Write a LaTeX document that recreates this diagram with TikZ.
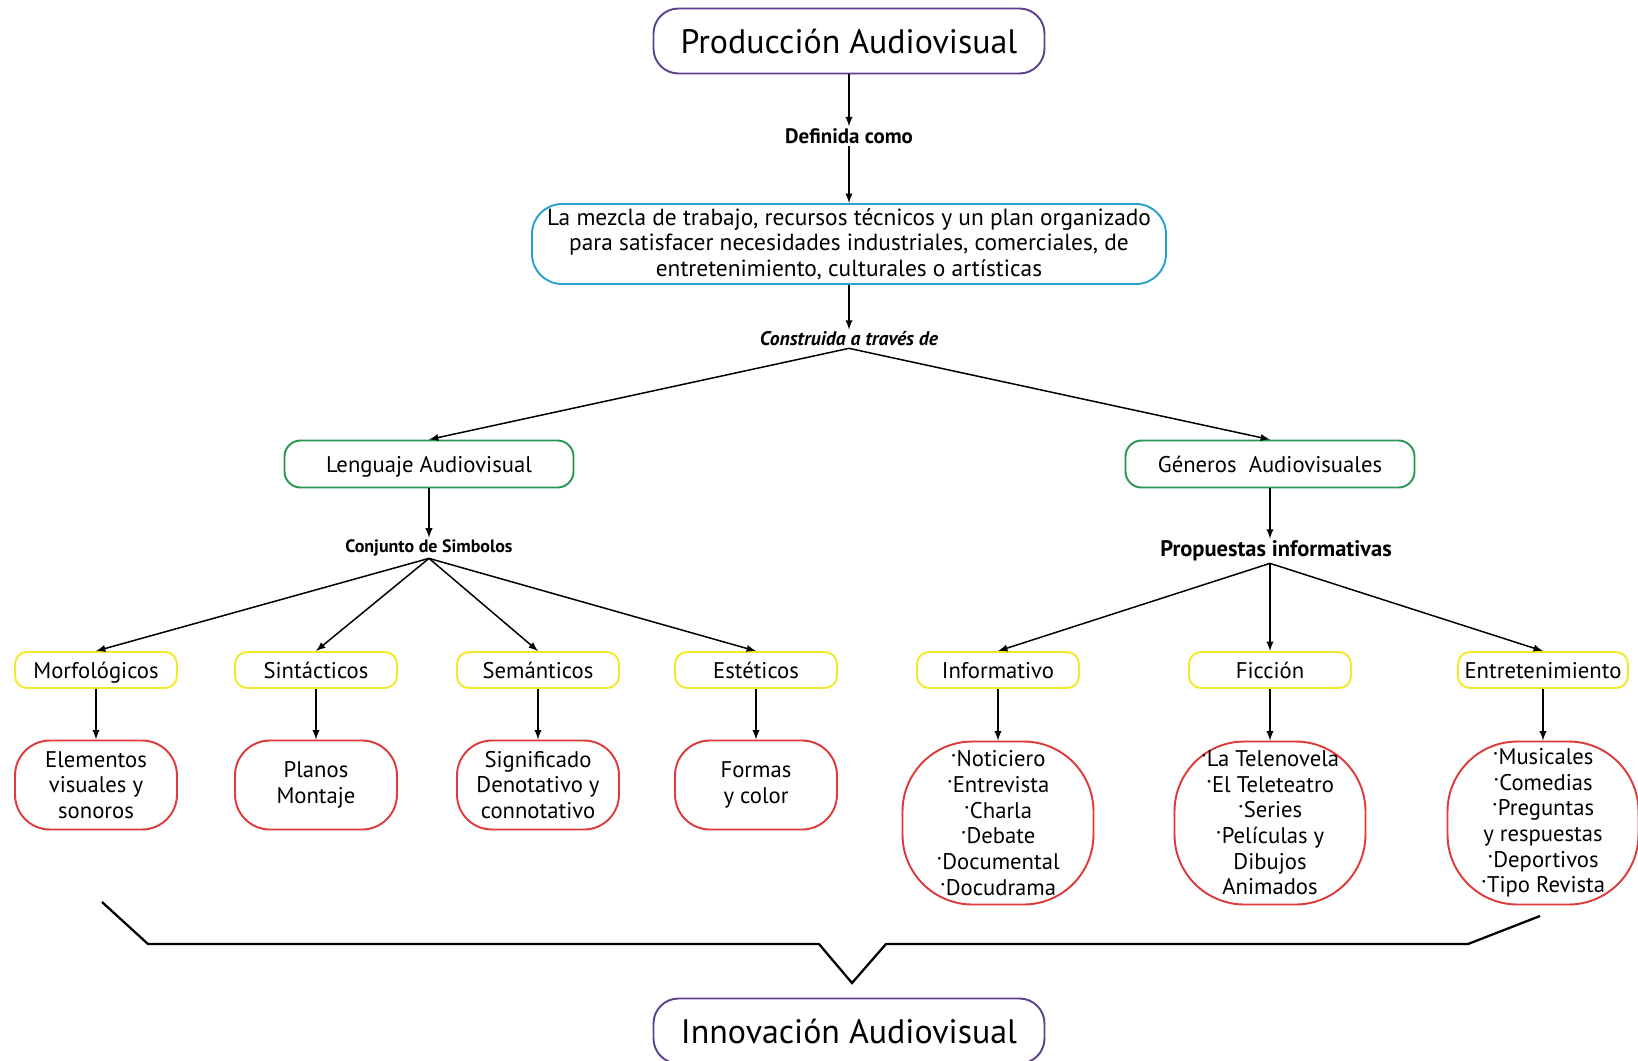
\documentclass[tikz,border=0pt]{standalone}
\usepackage{fontspec}
\setmainfont{PT Sans}
\usetikzlibrary{positioning,arrows}
\tikzset{>=latex}
\definecolor{morado}{RGB}{94,66,140}
\definecolor{celeste}{RGB}{40,160,210}
\definecolor{verde}{RGB}{40,150,80}
\definecolor{amarillo}{RGB}{242,234,40}
\definecolor{rojo}{RGB}{222,58,58}
\newcommand{\punto}{\raisebox{0.18em}{\textperiodcentered}}
\tikzset{
  caja/.style = {line width=1.1pt, align=center, inner sep=0pt,
    font=\fontsize{12.9}{14.6}\selectfont},
  titulo/.style = {caja, draw=morado, minimum width=78.2mm, minimum height=13mm,
    rounded corners=5mm, font=\fontsize{19.3}{22}\selectfont},
  concepto/.style = {caja, draw=celeste, minimum width=126.8mm, minimum height=16mm,
    rounded corners=6mm, font=\fontsize{13.3}{14.6}\selectfont},
  rama/.style = {caja, draw=verde, minimum width=57.8mm, minimum height=9.4mm,
    rounded corners=3.2mm, text height=9.6pt, text depth=0pt},
  tipo/.style = {caja, draw=amarillo, minimum width=32.4mm, minimum height=7.2mm,
    rounded corners=2.4mm, text height=9.6pt, text depth=0pt},
  detalle/.style = {caja, draw=rojo, minimum width=32.4mm, minimum height=17.8mm,
    rounded corners=7mm},
  lista/.style = {caja, draw=rojo, minimum width=38.2mm, minimum height=32.6mm,
    rounded corners=14mm},
  enlace/.style = {inner sep=1pt, font=\bfseries\fontsize{#1}{#1}\selectfont},
  flecha/.style = {->, line width=0.85pt}
}

\begin{document}
\begin{tikzpicture}[x=0.2mm,y=-0.2mm]
  \useasboundingbox (0,0) rectangle (1638,1060);
  \node[titulo] (prod) at (849,41) {Producción Audiovisual};
  \node[enlace=11.9] (defn) at (849,136) {Definida como};
  \node[concepto] (mezcla) at (849,244) {La mezcla de trabajo, recursos técnicos y un plan organizado\\
    para satisfacer necesidades industriales, comerciales, de\\
    entretenimiento, culturales o artísticas};
  \node[enlace=11.2] (constr) at (849,339) {\itshape Construida a través de};
  \node[rama] (leng) at (429,464) {Lenguaje Audiovisual};
  \node[rama] (gen) at (1270,464) {Géneros\ \ Audiovisuales};
  \node[enlace=10.2] (conj) at (429,548) {Conjunto de Simbolos};
  \node[enlace=12.8] (prop) at (1276,551) {Propuestas informativas};

  \node[tipo] (morf) at (96,670) {Morfológicos};
  \node[tipo] (sint) at (316,670) {Sintácticos};
  \node[tipo] (sema) at (538,670) {Semánticos};
  \node[tipo] (este) at (756,670) {Estéticos};
  \node[tipo] (info) at (998,670) {Informativo};
  \node[tipo] (fic) at (1270,670) {Ficción};
  \node[tipo,minimum width=34mm] (entr) at (1543,670) {Entretenimiento};

  \node[detalle] (elem) at (96,785) {Elementos\\visuales y\\sonoros};
  \node[detalle] (plan) at (316,785) {Planos\\Montaje};
  \node[detalle] (sign) at (538,785) {Significado\\Denotativo y\\connotativo};
  \node[detalle] (form) at (756,785) {Formas\\y color};
  \node[lista] (noti) at (998,823) {\punto Noticiero\\\punto Entrevista\\\punto Charla\\
    \punto Debate\\\punto Documental\\\punto Docudrama};
  \node[lista] (tele) at (1270,823) {\punto La Telenovela\\\punto El Teleteatro\\\punto Series\\
    \punto Películas y\\Dibujos\\Animados};
  \node[lista] (musi) at (1543,823) {\punto Musicales\\\punto Comedias\\\punto Preguntas\\
    y respuestas\\\punto Deportivos\\\punto Tipo Revista};

  \node[titulo] (inno) at (849,1031) {Innovación Audiovisual};

  \draw[flecha] (prod.south) -- (defn.north);
  \draw[flecha] (defn.south) -- (mezcla.north);
  \draw[flecha] (mezcla.south) -- (constr.north);
  \draw[flecha] (constr.south) -- (leng.north);
  \draw[flecha] (constr.south) -- (gen.north);
  \draw[flecha] (leng.south) -- (conj.north);
  \draw[flecha] (gen.south) -- (prop.north -| gen.south);
  \foreach \t in {morf,sint,sema,este}
    \draw[flecha] (conj.south) -- (\t.north);
  \foreach \t in {info,fic,entr}
    \draw[flecha] (prop.south -| gen.south) -- (\t.north);
  \foreach \a/\b in {morf/elem,sint/plan,sema/sign,este/form,info/noti,fic/tele,entr/musi}
    \draw[flecha] (\a.south) -- (\b.north);

  \draw[line width=1.3pt] (102,902) -- (148,944) -- (819,944) -- (852,983)
    -- (886,944) -- (1468,944) -- (1540,916);
\end{tikzpicture}
\end{document}
